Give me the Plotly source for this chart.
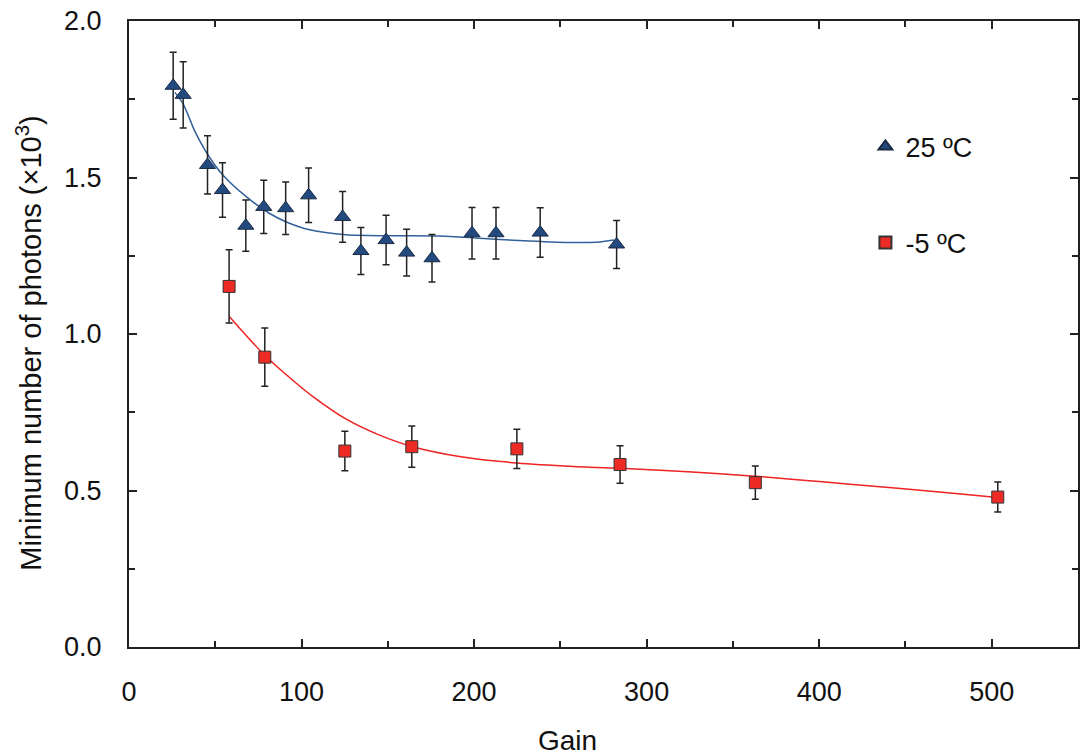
import plotly.graph_objects as go

# 25 ºC data (triangles)
gain_25 = [25.6, 31.4, 45.5, 54.2, 67.7, 78.1, 90.8, 104.1, 123.8, 134.4, 149.0, 160.9, 175.6, 198.8, 212.7, 238.3, 282.6]
photons_25 = [1.793, 1.764, 1.540, 1.460, 1.346, 1.406, 1.402, 1.443, 1.374, 1.265, 1.300, 1.260, 1.242, 1.322, 1.322, 1.324, 1.286]
err_25 = [0.107, 0.106, 0.093, 0.087, 0.082, 0.085, 0.084, 0.087, 0.081, 0.075, 0.079, 0.075, 0.076, 0.082, 0.082, 0.079, 0.077]

# -5 ºC data (squares)
gain_m5 = [58.0, 78.7, 125.1, 163.9, 224.8, 284.6, 363.0, 503.5]
photons_m5 = [1.152, 0.926, 0.626, 0.640, 0.633, 0.583, 0.525, 0.479]
err_m5 = [0.117, 0.093, 0.063, 0.066, 0.063, 0.060, 0.053, 0.048]

# fitted curves
fit_x_25 = [26.6, 31.4, 38.0, 45.9, 54.5, 68.1, 81.5, 91.2, 104.7, 125.9, 150.0, 179.9, 203.0, 231.9, 257.0, 274.3, 281.1]
fit_y_25 = [1.772, 1.735, 1.650, 1.571, 1.507, 1.438, 1.385, 1.358, 1.333, 1.317, 1.314, 1.313, 1.306, 1.297, 1.292, 1.295, 1.300]

fit_x_m5 = [58.0, 78.7, 92.0, 106.6, 125.9, 145.2, 164.4, 193.3, 224.8, 260.8, 287.8, 326.4, 364.9, 403.5, 442.1, 480.6, 503.5]
fit_y_m5 = [1.057, 0.932, 0.866, 0.800, 0.728, 0.677, 0.640, 0.607, 0.588, 0.576, 0.570, 0.559, 0.545, 0.527, 0.509, 0.490, 0.478]

x_ticks = [0, 100, 200, 300, 400, 500]
y_ticks = [0.0, 0.5, 1.0, 1.5, 2.0]
y_tick_labels = ["0.0", "0.5", "1.0", "1.5", "2.0"]

FONT = "Liberation Sans, Arial, sans-serif"
BLUE_M = "#234a7e"
BLUE_L = "#33609a"
RED_M = "#ee2a24"
RED_L = "#f02222"
AX = "#222222"
TXT = "#111111"

fig = go.Figure()

fig.add_trace(go.Scatter(
    x=fit_x_25, y=fit_y_25, mode="lines", line=dict(color=BLUE_L, width=1.5, shape="spline", smoothing=0.7),
    showlegend=False, hoverinfo="skip"))
fig.add_trace(go.Scatter(
    x=fit_x_m5, y=fit_y_m5, mode="lines", line=dict(color=RED_L, width=1.5, shape="spline", smoothing=1.0),
    showlegend=False, hoverinfo="skip"))

fig.add_trace(go.Scatter(
    x=gain_25, y=photons_25, mode="markers", name="25 ºC", legendgroup="a",
    error_y=dict(type="data", array=err_25, visible=True, color=AX, thickness=1.5, width=3.5),
    marker=dict(symbol="triangle-up", size=14, color=BLUE_M, line=dict(color="#1b2a44", width=1))))
fig.add_trace(go.Scatter(
    x=gain_m5, y=photons_m5, mode="markers", name="-5 ºC", legendgroup="b",
    error_y=dict(type="data", array=err_m5, visible=True, color=AX, thickness=1.5, width=3.5),
    marker=dict(symbol="square", size=12, color=RED_M, line=dict(color="#333333", width=1))))

axis_common = dict(
    showline=True, linecolor=AX, linewidth=2, mirror="ticks",
    ticks="inside", ticklen=8, tickwidth=1.5, tickcolor=AX,
    showgrid=False, zeroline=False,
    tickfont=dict(family=FONT, size=27, color=TXT),
)

fig.update_xaxes(range=[0, 550], tickvals=x_ticks, ticklabelstandoff=20,
                 minor=dict(ticks="inside", dtick=50, ticklen=6, tickwidth=1.5, tickcolor=AX, showgrid=False),
                 **axis_common)
fig.update_yaxes(range=[0, 2.0], tickvals=y_ticks, ticktext=y_tick_labels, ticklabelstandoff=20,
                 minor=dict(ticks="inside", dtick=0.25, ticklen=6, tickwidth=1.5, tickcolor=AX, showgrid=False),
                 **axis_common)

fig.add_annotation(text="Gain", xref="paper", yref="paper", x=0.4616, y=-0.149,
                   xanchor="center", yanchor="middle", showarrow=False,
                   font=dict(family=FONT, size=28, color=TXT))
fig.add_annotation(text="Minimum number of photons (×10<sup>3</sup>)", xref="paper", yref="paper",
                   x=-0.105, y=0.485, textangle=-90, xanchor="center", yanchor="middle", showarrow=False,
                   font=dict(family=FONT, size=29, color=TXT))

fig.update_layout(
    width=1082, height=755,
    margin=dict(l=129, r=2, t=21, b=108),
    paper_bgcolor="white", plot_bgcolor="white",
    showlegend=True,
    legend=dict(x=0.776, y=0.838, xanchor="left", yanchor="top", bgcolor="rgba(0,0,0,0)",
                font=dict(family=FONT, size=27, color=TXT), tracegroupgap=58,
                itemsizing="constant"),
)

fig.write_html("out.html", config={"displayModeBar": False},
               post_script="document.body.style.margin='0';document.body.style.overflow='hidden';")
